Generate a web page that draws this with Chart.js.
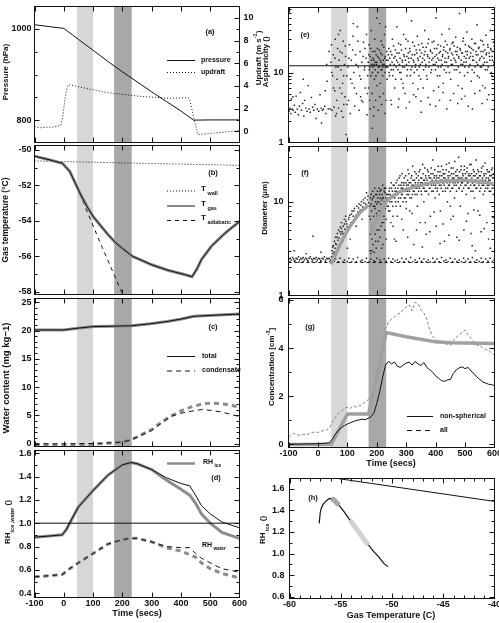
<!DOCTYPE html>
<html><head><meta charset="utf-8">
<script src="https://cdn.jsdelivr.net/npm/chart.js@4.4.1/dist/chart.umd.min.js"></script>
<style>
html,body{margin:0;background:#fff}
#wrap{position:relative;width:499px;height:623px}
#wrap canvas{position:absolute;left:0;top:0}
</style>
</head><body><div id="wrap"></div>
<script>
// ---- data ----
const lightBand = [45, 100];
const darkBand = [172, 232];
const timeTicks = [-100, 0, 100, 200, 300, 400, 500, 600];

// (a) pressure / updraft
const pressTicks = [800, 1000];
const updTicks = [0, 2, 4, 6, 8, 10];
const pressT = [-100, -50, 0, 50, 100, 150, 200, 250, 300, 350, 400, 443, 500, 600];
const pressV = [1009, 1005, 1001, 977, 953, 929, 906, 884, 862, 841, 820, 800, 800.5, 800.5];
const updT = [-100, -80, -60, -40, -20, -10, -4, 4, 10, 16, 45, 100, 150, 200, 250, 300, 365, 425, 432, 445, 458, 480, 520, 560, 600];
const updV = [0.4, 0.3, 0.35, 0.35, 0.45, 0.5, 1.2, 2.8, 3.7, 4.1, 3.95, 3.65, 3.4, 3.25, 3.1, 3.0, 2.9, 2.95, 2.6, 1.0, -0.3, -0.25, -0.15, -0.05, 0.05];

// (b) temperatures
const tempTicks = [-58, -56, -54, -52, -50];
const twallT = [-100, 600];
const twallV = [-50.62, -50.87];
const tgasT = [-100, -50, -5, 20, 40, 60, 80, 100, 126, 150, 175, 200, 235, 270, 298, 355, 412, 438, 455, 470, 504, 550, 600];
const tgasV = [-50.35, -50.55, -50.75, -51.2, -51.9, -52.6, -53.2, -53.75, -54.27, -54.75, -55.2, -55.55, -56.0, -56.25, -56.46, -56.78, -57.02, -57.15, -56.7, -56.18, -55.43, -54.7, -54.03];
const tadT = [-100, -50, -5, 20, 40, 126, 200, 215];
const tadV = [-50.35, -50.55, -50.75, -51.2, -51.9, -55.3, -58.1, -58.7];

// (c) water content
const waterTicks = [0, 5, 10, 15, 20, 25];
const totT = [-100, 0, 46, 102, 159, 233, 296, 353, 398, 444, 512, 600];
const totV = [20.1, 20.1, 20.4, 20.7, 20.75, 20.85, 21.2, 21.6, 22.0, 22.5, 22.7, 22.9];
const condT = [-100, 0, 100, 150, 200, 230, 260, 300, 330, 365, 400, 435, 470, 503, 540, 570, 600];
const condObs = [0, 0, 0.05, 0.15, 0.3, 0.7, 1.4, 2.35, 3.5, 4.8, 5.4, 5.75, 6.05, 5.9, 5.6, 5.2, 4.8];
const condMod = [-0.2, -0.2, -0.1, 0.1, 0.3, 0.7, 1.5, 2.5, 3.7, 4.9, 5.8, 6.5, 7.0, 7.2, 7.1, 6.8, 6.5];

// (d) relative humidity
const rhTicks = [0.4, 0.6, 0.8, 1.0, 1.2, 1.4, 1.6];
const rhT = [-100, -50, -5, 10, 20, 50, 100, 150, 200, 230, 250, 300, 350, 400, 430, 450, 470, 500, 540, 600];
const rhIceObs = [0.88, 0.89, 0.9, 0.95, 1.0, 1.14, 1.28, 1.41, 1.50, 1.52, 1.51, 1.46, 1.39, 1.34, 1.32, 1.24, 1.15, 1.08, 1.01, 0.96];
const rhIceMod = [0.88, 0.89, 0.9, 0.95, 1.0, 1.14, 1.28, 1.41, 1.50, 1.52, 1.51, 1.46, 1.37, 1.29, 1.24, 1.17, 1.08, 1.0, 0.92, 0.87];
const rhWatObs = [0.54, 0.55, 0.56, 0.59, 0.61, 0.66, 0.74, 0.82, 0.86, 0.87, 0.87, 0.84, 0.80, 0.79, 0.79, 0.74, 0.70, 0.66, 0.61, 0.58];
const rhWatMod = [0.54, 0.55, 0.56, 0.59, 0.61, 0.66, 0.74, 0.82, 0.86, 0.87, 0.87, 0.84, 0.79, 0.76, 0.73, 0.71, 0.66, 0.61, 0.57, 0.53];
const rhSat = 1.0;

// (e) asphericity, [time, value]
const logTicks = [1, 10];
const logMinorE = [2, 3, 4, 5, 6, 7, 8, 9, 20, 30, 40, 50, 60, 70, 80];
const logMinorF = [2, 3, 4, 5, 6, 7, 8, 9, 20, 30];
const asphLine = 12.5;
const asphericity = [
  [-98,2.8],[-95,3.1],[-92,2.6],[-90,4.2],[-87,3.0],[-85,4.5],[-84,2.9],[-80,3.4],[-77,2.7],[-74,4.6],[-70,3.0],[-66,2.5],[-63,3.3],[-60,5.2],[-56,2.9],[-52,3.6],[-50,8.0],[-48,2.4],[-45,4.0],[-41,3.1],[-37,2.8],[-33,6.5],[-30,3.0],[-26,2.7],[-22,4.4],[-18,3.2],[-14,2.9],[-10,3.5],[-6,2.2],[-2,3.0],[3,2.8],[7,4.8],[11,3.1],[12,1.9],[15,2.9],[19,3.0],[23,3.3],[25,5.5],[27,2.6],[30,13],[31,7.5],[35,3.0],[38,20],
  [42,3.0],[44,14],[46,25],[47,10],[48,2.9],[50,9],[52,18],[53,6],[55,3.2],[57,5.5],[58,16],[59,30],[60,2.4],[61,12],[63,2.6],[64,4],[65,8],[67,22],[69,12],[70,3.1],[70,35],[72,15],[74,6],[75,20],[76,40],[78,11],[80,2.8],[81,5],[82,19],[84,7],[85,2.3],[86,28],[87,9],[88,3.5],[90,13],[92,4.5],[93,24],[94,17],[96,1.3],[98,9],[99,3.5],
  [102,12],[104,4],[105,16],[107,25],[110,2.6],[111,8],[113,15],[116,7],[118,21],[119,33],[120,50],[122,10],[124,6],[125,3.3],[128,18],[130,13],[131,5],[134,45],[136,28],[137,12],[140,2.9],[142,9],[143,20],[145,4.5],[146,8],[148,4],[149,14],[152,3.8],[154,17],[155,27],[158,11],[159,12],[160,22],[161,6],[164,16],[165,35],[167,2.5],[168,5],[169,9],
  [171,14],[172,6],[173,18],[174,25],[175,11],[176,12],[176,4],[177,3],[178,17],[179,22],[180,9],[181,40],[182,15],[183,13],[184,5],[185,1.6],[185,10],[186,20],[187,12],[188,16],[189,2.4],[190,15],[190,3.2],[191,13],[192,8],[193,30],[194,20],[195,11],[195,14],[196,4],[197,9],[198,18],[199,13],[200,60],[200,14],[201,6.5],[202,22],[203,17],[204,10],[205,2.9],[206,12],[207,16],[208,12],[209,21],[210,50],[210,4.5],[211,7],[212,15],[213,19],[214,14],[215,28],[215,11],[216,3.5],[217,11],[218,18],[219,25],[220,9],[220,12],[221,13],[222,15],[223,5],[224,23],[225,13],[226,35],[227,16],[228,10],[228,2.6],[229,17],[230,45],[230,12],[231,4],[232,12],[233,15],[234,20],[235,8],
  [237,12],[238,15],[239,18],[241,22],[242,10],[243,9],[244,16],[246,13],[247,20],[248,4],[249,11],[250,3.5],[251,18],[252,14],[253,30],[254,9],[256,11],[257,24],[258,16],[259,13],[261,6],[262,17],[263,21],[264,8],[266,12],[267,15],[268,45],[269,19],[271,14],[272,11],[273,3.2],[274,26],[275,4.2],[276,19],[277,13],[278,10],[279,16],[281,25],[282,10],[283,8],[284,21],[286,15],[287,14],[288,12],[289,7],[290,6.0],[291,35],[292,18],[293,17],[294,12],[296,5],[297,15],[298,22],[299,30],[300,3.1],[301,13],[302,17],[303,9],[304,11],[306,28],[307,19],[308,16],[309,14],[311,3.8],[312,22],[313,20],[314,9],[316,11],[317,16],[318,55],[319,12],[321,18],[322,27],[323,7],[324,15],[325,4.8],[326,14],[327,10],[328,24],[329,18],[331,12],[332,13],[333,4.5],[334,21],[336,19],[337,11],[338,33],[339,16],[340,5.8],[341,15],[342,25],[343,9],[344,12],[346,21],[347,17],[348,13],[349,8],[350,3.9],[351,2.7],[352,19],[353,26],[354,14],[356,16],[357,23],[358,6],[359,11],[361,18],[362,15],[363,40],[364,20],[366,12],[367,13],[368,23],[369,9],[371,8],[372,18],[373,17],[374,26],[375,4.4],[376,30],[377,12],[378,14],[379,16],[381,3.5],[382,21],[383,20],[384,10],[386,11],[387,15],[388,27],[389,19],[391,16],[392,13],[393,5.5],[394,28],[396,22],[397,17],[398,13],[399,11],[400,3.3],[401,60],[402,14],[403,18],[404,22],[406,9],[407,16],[408,25],[409,12],[410,6.2],[411,15],[412,19],[413,4],[414,9],[416,20],[417,24],[418,12],[419,15],[421,35],[422,13],[423,17],[424,18],[425,5.2],[426,7],[427,21],[428,23],[429,11],[431,14],[432,16],[433,28],[434,20],[436,10],[437,14],[438,3],[439,25],[441,19],[442,12],[443,16],[444,17],[446,42],[447,10],[448,21],[449,22],[450,4.0],[451,8],[452,15],[453,13],[454,19],[456,26],[457,13],[458,18],[459,27],[461,5],[462,16],[463,24],[464,11],[466,15],[467,20],[468,32],[469,14],[471,11],[472,18],[473,20],[474,23],[475,3.6],[476,6.5],[477,12],[478,17],[479,16],[481,70],[482,10],[483,22],[484,21],[486,13],[487,15],[488,4.2],[489,19],[490,5.9],[491,19],[492,13],[493,28],[494,31],[496,14],[497,17],[498,9],[499,12],[500,4.6],[501,25],[502,20],[503,16],[504,14],[506,38],[507,18],[508,20],[509,10],[511,3.3],[512,24],[513,12],[514,16],[516,23],[517,13],[518,17],[519,19],[521,7.5],[522,22],[523,30],[524,11],[525,3.0],[526,15],[527,17],[528,21],[529,15],[531,10],[532,26],[533,5],[534,12],[536,26],[537,20],[538,18],[539,14],[541,48],[542,9],[543,13],[544,18],[546,22],[547,23],[548,8.5],[549,15],[550,5.5],[551,16],[552,12],[553,29],[554,20],[556,12],[557,17],[558,3.6],[559,28],[560,6.5],[561,20],[562,13],[563,25],[564,16],[566,14],[567,21],[568,6],[569,11],[571,34],[572,18],[573,19],[574,14],[575,4.1],[576,11],[577,25],[578,23],[579,12],[581,4.8],[582,19],[583,17],[584,15],[586,40],[587,22],[588,21],[589,10],[591,9],[592,17],[593,15],[594,20],[596,27],[597,14],[598,13],[599,24],[600,3.4]
];

// (f) diameter, [time, value]
const diamFloor = 2.25;
const diameter = [
  [-98,2.45],[-95,2.3],[-94,2.5],[-90,2.4],[-86,2.55],[-82,2.45],[-80,3.0],[-80,2.32],[-78,2.35],[-74,2.5],[-70,2.45],[-66,2.6],[-65,2.28],[-62,2.4],[-58,2.5],[-54,2.45],[-50,2.55],[-50,2.3],[-46,2.4],[-42,2.5],[-40,2.8],[-38,2.45],[-35,2.33],[-34,2.35],[-30,2.5],[-26,2.6],[-22,2.45],[-20,2.29],[-18,2.4],[-17,4.3],[-14,2.5],[-10,2.45],[-6,2.55],[-5,2.3],[-2,2.4],[2,2.5],[6,2.45],[10,2.35],[10,2.9],[10,2.31],[14,2.5],[18,2.45],[22,2.6],[25,2.29],[26,2.4],[30,2.5],[34,2.45],[38,2.5],[40,2.3],[42,2.4],[50,2.8],[55,2.32],[60,2.45],[70,2.3],[75,2.5],[85,2.28],[90,2.4],[100,2.31],[105,2.5],[115,2.3],[120,2.45],[130,2.29],[135,2.55],[145,2.32],[150,2.4],[160,2.3],[165,2.5],[175,2.31],[180,2.45],[190,2.35],[195,2.3],[200,2.5],[210,2.4],[215,2.28],[225,2.45],[232,2.32],[240,2.5],[248,2.3],[255,2.45],[262,2.33],[270,2.4],[278,2.29],[285,2.5],[292,2.3],[300,2.45],[308,2.31],[315,2.55],[322,2.3],[330,2.4],[338,2.29],[345,2.5],[352,2.32],[360,2.45],[368,2.3],[375,2.4],[382,2.28],[390,2.5],[398,2.31],[405,2.45],[412,2.3],[420,2.55],[428,2.33],[435,2.4],[442,2.3],[450,2.5],[458,2.29],[465,2.45],[472,2.31],[480,2.4],[488,2.3],[495,2.5],[502,2.32],[510,2.45],[518,2.3],[525,2.55],[532,2.29],[540,2.4],[548,2.31],[555,2.5],[562,2.3],[570,2.45],[578,2.32],[585,2.5],[592,2.3],[598,2.4],
  [46,2.6],[48,3.0],[50,3.3],[52,3.4],[54,2.7],[55,2.9],[56,3.8],[58,3.2],[60,4.2],[60,3.6],[62,3.5],[64,3.0],[65,4.2],[66,4.6],[68,3.9],[70,5.0],[70,3.4],[72,4.1],[74,3.6],[75,4.8],[76,5.4],[78,4.5],[80,6.0],[80,5.2],[82,4.8],[84,3.8],[85,4.6],[86,5.5],[88,4.4],[90,6.5],[90,5.8],[92,5.1],[94,7.0],[95,6.2],[96,4.8],[98,5.8],[100,3.2],[100,5.4],[104,6.5],[106,6.8],[108,7.2],[110,4.0],[112,6.0],[114,7.4],[116,8.0],[120,7.0],[122,8.0],[124,8.5],[128,6.8],[130,5.5],[130,7.2],[132,9.0],[136,7.8],[138,8.6],[140,9.5],[144,8.2],[146,9.2],[148,10.0],[150,6.5],[152,8.8],[154,10.5],[156,9.7],[160,11.0],[162,9.5],[164,8.5],[165,12.5],[168,10.5],[170,11.5],[172,9.8],
  [175,7],[176,9.0],[177,3.0],[178,11],[178,4.5],[179,6.5],[180,2.8],[181,12],[181,9.5],[182,8],[183,4],[184,10.5],[184,3],[185,5.5],[186,13],[187,3.5],[187,11],[188,9],[189,7],[190,11.5],[190,6],[191,2.9],[192,6],[193,14],[193,9],[194,8.5],[195,4.5],[196,10],[196,3.8],[197,12],[198,3.2],[199,7.5],[199,12],[200,9.5],[201,5],[202,13],[202,7],[203,11],[204,6.5],[205,3.8],[205,10],[206,10],[207,8],[208,14],[208,5],[209,12],[210,4.2],[211,7],[211,13],[212,11],[213,9.5],[214,5.5],[214,8],[215,13.5],[216,10.5],[217,6],[217,3.2],[218,12],[219,8],[220,15],[220,11],[221,3.5],[222,11],[223,9],[223,6],[224,7],[225,13],[226,10],[226,14],[227,5],[228,12.5],[229,8.5],[229,9],[230,14],[231,11],[232,6.5],[232,4],[233,10],[234,12],[235,9],[235,12],
  [238,11],[239,9],[240,8],[241,12],[242,13],[243,14],[244,10],[245,8],[246,12],[247,11],[248,6],[249,16],[250,14],[251,10],[252,11],[253,13],[254,9],[255,7],[255,5.5],[256,15],[257,12],[258,12],[259,15],[260,4],[261,11],[262,13],[263,14],[264,10],[265,9],[265,3.8],[266,16],[267,13],[268,12],[269,17],[270,7],[271,12],[272,14],[273,10],[274,11],[275,15],[276,18],[277,13],[278,13],[279,19],[280,9],[281,11],[282,15],[283,14],[284,12],[285,16],[285,6.5],[286,20],[287,12],[288,14],[289,10],[290,5],[291,15],[292,16],[293,18],[294,11],[295,13],[296,13],[297,11],[298,19],[299,16],[300,10],[300,8.5],[301,14],[302,15],[303,12],[304,13],[305,17],[305,4.2],[306,22],[307,15],[308,12],[309,20],[310,16],[311,13],[312,8],[313,11],[314,14],[315,16],[316,18],[317,14],[318,11],[319,19],[320,15],[320,7.5],[321,12],[322,24],[323,17],[324,13],[325,15],[326,3.5],[327,13],[328,17],[329,21],[330,12],[331,16],[332,15],[333,14],[334,20],[335,18],[335,5.0],[336,14],[337,12],[338,9],[339,15],[340,16],[341,19],[342,13],[343,17],[344,21],[345,14],[346,15],[347,22],[348,6],[349,16],[350,18],[351,13],[352,12],[353,18],[354,16],[355,15],[355,3.3],[356,25],[357,20],[358,14],[359,17],[360,10],[361,14],[362,17],[363,23],[364,13],[365,16],[365,6.0],[366,19],[367,18],[368,4.5],[369,13],[370,15],[371,17],[372,22],[373,15],[374,16],[375,21],[376,12],[377,19],[378,18],[379,14],[380,14],[380,4.8],[381,16],[382,7],[383,18],[384,20],[385,23],[386,15],[387,13],[388,17],[389,16],[390,28],[391,20],[392,13],[393,15],[394,16],[395,18],[395,7.8],[396,19],[397,22],[398,11],[399,14],[400,15],[401,17],[402,5.5],[403,19],[404,18],[405,13],[406,14],[407,16],[408,21],[409,24],[410,16],[411,18],[412,12],[413,15],[414,19],[415,21],[415,3.6],[416,8],[417,17],[418,15],[419,14],[420,24],[421,19],[422,17],[423,16],[424,13],[425,22],[425,5.8],[426,20],[427,18],[428,16],[429,15],[430,3.8],[431,20],[432,18],[433,13],[434,14],[435,17],[436,22],[437,25],[438,17],[439,16],[440,10],[441,14],[442,19],[443,18],[444,15],[445,21],[445,4.4],[446,26],[447,15],[448,16],[449,19],[450,13],[450,9.0],[451,17],[452,6.5],[453,23],[454,20],[455,14],[456,17],[457,18],[458,14],[459,16],[460,23],[460,7.0],[461,20],[462,18],[463,15],[464,11],[465,27],[466,16],[467,17],[468,21],[469,19],[470,15],[471,13],[472,4.2],[473,22],[474,19],[475,16],[476,17],[477,18],[478,30],[479,14],[480,14],[480,3.9],[481,21],[482,18],[483,17],[484,9],[485,15],[486,22],[487,24],[488,16],[489,18],[490,13],[491,16],[492,20],[493,19],[494,17],[495,14],[496,5],[497,22],[498,24],[499,17],[500,15],[501,20],[502,18],[503,15],[504,12],[505,18],[505,6.2],[506,21],[507,23],[508,16],[509,16],[510,7.5],[511,14],[512,19],[513,20],[514,14],[515,17],[516,25],[517,19],[518,17],[519,15],[520,13],[520,4.6],[521,25],[522,20],[523,18],[524,3.4],[525,16],[526,16],[527,13],[528,22],[529,19],[530,15],[530,8.2],[531,21],[532,11],[533,15],[534,19],[535,17],[535,3.0],[536,17],[537,14],[538,28],[539,20],[540,14],[541,16],[542,18],[543,22],[544,8],[545,18],[546,21],[547,15],[548,16],[549,19],[550,13],[550,7.2],[551,17],[552,19],[553,14],[554,4.8],[555,21],[556,23],[557,16],[558,15],[559,18],[560,17],[561,24],[562,12],[563,15],[564,20],[565,19],[565,5.2],[566,16],[567,13],[568,26],[569,17],[570,14],[571,20],[572,18],[573,16],[574,6],[575,22],[576,15],[577,14],[578,21],[579,18],[580,17],[580,4.0],[581,15],[582,13],[583,21],[584,19],[585,17],[586,3.2],[587,13],[588,16],[589,19],[590,22],[591,16],[592,14],[593,23],[594,18],[595,15],[595,6.8],[596,12],[597,18],[598,20],[599,14]
];
const diamModT1 = [44, 63, 86, 109, 143, 171];
const diamModV1 = [2.15, 2.9, 4.1, 5.5, 7.7, 9.2];
const diamModT2 = [180, 194, 217, 234, 279, 336, 392, 494, 596];
const diamModV2 = [4.5, 6.0, 7.8, 10.4, 12.9, 14.7, 16.2, 17.1, 15.7];

// (g) concentration
const concTicks = [0, 2, 4, 6];
const concT = [-100,-90,-80,-70,-60,-50,-40,-30,-20,-10,0,10,20,30,40,50,60,70,80,90,100,110,120,130,140,150,160,170,180,190,200,210,220,230,240,250,260,270,280,290,300,310,320,330,340,350,360,370,380,390,400,410,420,430,440,450,460,470,480,490,500,510,520,530,540,550,560,570,580,590,600];
const concNonSph = [0.02,0.01,0.02,0.01,0.02,0.02,0.03,0.02,0.03,0.03,0.04,0.04,0.05,0.06,0.08,
  0.25,0.45,0.6,0.7,0.78,0.85,0.9,0.95,1.0,1.02,1.05,1.03,1.08,
  1.15,1.3,1.7,2.2,2.8,3.3,3.45,3.35,3.42,3.25,3.2,3.3,
  3.38,3.42,3.3,3.45,3.35,3.28,3.4,3.2,3.1,3.0,2.85,2.75,
  2.65,2.62,2.68,2.7,2.95,3.1,3.18,3.22,3.15,3.2,3.05,2.95,
  2.8,2.7,2.6,2.55,2.5,2.48,2.45];
const concAll = [0.31,0.42,0.45,0.4,0.38,0.42,0.4,0.45,0.5,0.52,0.5,0.55,0.58,0.6,0.7,
  0.95,1.15,1.3,1.4,1.5,1.55,1.5,1.6,1.55,1.6,1.65,1.75,1.85,
  2.0,2.15,2.6,3.1,4.0,4.8,5.1,5.2,5.3,5.4,5.45,5.6,
  5.7,5.8,5.55,5.9,5.85,5.6,5.45,5.2,4.75,4.5,4.35,4.3,
  4.25,4.2,4.15,4.12,4.3,4.45,4.55,4.65,4.75,4.55,4.4,4.25,
  4.12,4.1,4.0,3.95,3.9,3.8,3.7];
const concModT = [-100, 45, 100, 172, 232, 300, 400, 450, 600];
const concModV = [0, 0, 1.27, 1.27, 4.65, 4.47, 4.26, 4.22, 4.19];

// (h) RHice vs gas temperature
const gtTicks = [-60, -55, -50, -45, -40];
const rhhTicks = [0.6, 0.8, 1.0, 1.2, 1.4, 1.6];
const homT = [-60, -40];
const homV = [1.76, 1.483];
const trajT = [-50.4, -50.8, -51.3, -51.8, -52.3, -52.8, -53.4, -54.1, -54.7, -55.2, -55.7, -56.1, -56.4, -56.7, -56.9, -57.0, -57.1];
const trajV = [0.88, 0.91, 0.97, 1.02, 1.08, 1.14, 1.22, 1.31, 1.39, 1.45, 1.50, 1.51, 1.49, 1.46, 1.42, 1.38, 1.28];
const lightT = [-54.1, -53.4, -52.8, -52.3];
const lightV = [1.31, 1.22, 1.14, 1.08];
const darkT = [-55.9, -55.7, -55.2];
const darkV = [1.505, 1.50, 1.45];

// ---- drawing ----
const W = 499, H = 623;
const FONT = '"Liberation Sans", Arial, sans-serif';
const INK = '#111';
const MODEL = '#8c8c8c';

const xy = (ts, vs) => ts.map((t, i) => ({ x: t, y: vs[i] }));
const pts = pairs => pairs.map(p => ({ x: p[0], y: p[1] }));

function ln(data, color, width, dash, yAxisID) {
  return { data, borderColor: color, borderWidth: width, borderDash: dash || [], pointRadius: 0, yAxisID: yAxisID || 'y', fill: false };
}
function dots(data) {
  return { data, showLine: false, pointStyle: 'rect', pointRadius: 1.05, pointBackgroundColor: '#222', pointBorderWidth: 0, yAxisID: 'y' };
}

function axis(s) {
  const vertical = s.axis === 'y';
  return {
    type: s.type || 'linear', axis: s.axis, position: s.position, min: s.min, max: s.max,
    grid: { display: false, drawTicks: false }, border: { display: false },
    ticks: {
      display: !!s.labels, padding: s.pad === undefined ? 3 : s.pad, autoSkip: false, maxRotation: 0,
      font: { family: FONT, size: 9, weight: 'bold' }, color: INK,
      callback: v => s.fmt ? s.fmt(v) : String(v)
    },
    afterBuildTicks: sc => { if (s.labels) sc.ticks = s.labels.map(v => ({ value: v })); },
    afterFit: sc => {
      if (vertical) sc.width = s.size; else sc.height = s.size;
      sc.paddingLeft = sc.paddingRight = sc.paddingTop = sc.paddingBottom = 0;
    }
  };
}

// text with sub/superscripts, optionally rotated
function rich(ctx, t) {
  const size = t.size || 8;
  const segs = typeof t.t === 'string' ? [[t.t, '']] : t.t;
  const fs = k => k ? size * 0.68 : size;
  ctx.save();
  ctx.translate(t.x, t.y);
  if (t.rot) ctx.rotate(-Math.PI / 2);
  let w = 0;
  segs.forEach(([s, k]) => { ctx.font = `bold ${fs(k)}px ${FONT}`; w += ctx.measureText(s).width; });
  let cx = t.align === 'left' ? 0 : t.align === 'right' ? -w : -w / 2;
  ctx.textBaseline = 'middle';
  ctx.fillStyle = INK;
  segs.forEach(([s, k]) => {
    ctx.font = `bold ${fs(k)}px ${FONT}`;
    const dy = k === 'sub' ? size * 0.5 : k === 'sup' ? -size * 0.4 : 0;
    ctx.fillText(s, cx, dy);
    cx += ctx.measureText(s).width;
  });
  ctx.restore();
}

function decoPlugin(d, specs) {
  return {
    id: 'deco',
    beforeDatasetsDraw(chart) {
      if (!d.bands) return;
      const { ctx, chartArea: a } = chart, x = chart.scales.x;
      ctx.save();
      [[lightBand, '#d7d7d7'], [darkBand, '#a8a8a8']].forEach(([b, c]) => {
        const x0 = x.getPixelForValue(b[0]), x1 = x.getPixelForValue(b[1]);
        ctx.fillStyle = c;
        ctx.fillRect(x0, a.top, x1 - x0, a.bottom - a.top);
      });
      ctx.restore();
    },
    afterDraw(chart) {
      const { ctx, chartArea: a } = chart;
      ctx.save();
      ctx.strokeStyle = INK;
      ctx.lineWidth = 1;
      ctx.strokeRect(a.left, a.top, a.right - a.left, a.bottom - a.top);
      for (const id in specs) {
        const s = specs[id], sc = chart.scales[id];
        [[s.major || s.labels || [], 5], [s.minor || [], 3]].forEach(([vals, len]) => {
          vals.forEach(v => {
            const p = Math.round(sc.getPixelForValue(v)) + 0.5;
            const horiz = s.axis === 'x';
            if (horiz && (p < a.left + 1 || p > a.right - 1)) return;
            if (!horiz && (p < a.top + 1 || p > a.bottom - 1)) return;
            s.sides.forEach(side => {
              ctx.beginPath();
              if (side === 'bottom') { ctx.moveTo(p, a.bottom); ctx.lineTo(p, a.bottom - len); }
              if (side === 'top') { ctx.moveTo(p, a.top); ctx.lineTo(p, a.top + len); }
              if (side === 'left') { ctx.moveTo(a.left, p); ctx.lineTo(a.left + len, p); }
              if (side === 'right') { ctx.moveTo(a.right, p); ctx.lineTo(a.right - len, p); }
              ctx.stroke();
            });
          });
        });
      }
      (d.keys || []).forEach(k => {
        ctx.save();
        ctx.strokeStyle = k.color || INK;
        ctx.lineWidth = k.width || 1;
        ctx.setLineDash(k.dash || []);
        ctx.beginPath(); ctx.moveTo(k.x0, k.y); ctx.lineTo(k.x1, k.y); ctx.stroke();
        ctx.restore();
      });
      (d.texts || []).forEach(t => rich(ctx, t));
      ctx.restore();
    }
  };
}

function panel(box, specs, datasets, deco) {
  const cv = document.createElement('canvas');
  cv.width = W; cv.height = H;
  document.getElementById('wrap').appendChild(cv);
  const pad = { left: box[0], top: box[1], right: W - box[2], bottom: H - box[3] };
  const scales = {};
  for (const id in specs) {
    const s = specs[id];
    // room for tick labels: the axis box runs from the canvas edge (or 20px) to the plot frame
    s.size = 0;
    if (s.labels) {
      if (s.position === 'left') s.size = box[0];
      if (s.position === 'right') s.size = 22;
      if (s.position === 'bottom') s.size = 18;
    }
    if (s.position === 'left') pad.left -= s.size;
    if (s.position === 'right') pad.right -= s.size;
    if (s.position === 'bottom') pad.bottom -= s.size;
    scales[id] = axis(s);
  }
  return new Chart(cv, {
    type: 'line',
    data: { datasets },
    options: {
      responsive: false, animation: false, devicePixelRatio: 1,
      layout: { padding: pad },
      scales,
      plugins: { legend: { display: false }, tooltip: { enabled: false } },
      elements: { line: { tension: 0 } }
    },
    plugins: [decoPlugin(deco, specs)]
  });
}

const tAxis = (labels) => ({ axis: 'x', position: 'bottom', min: -100, max: 600, major: timeTicks, labels: labels ? timeTicks : undefined, pad: 1, sides: ['bottom', 'top'] });
const f1 = v => v.toFixed(1);

// (a)
panel([34.5, 6.5, 239.5, 142.5], {
  x: tAxis(false),
  y: { axis: 'y', position: 'left', min: 751, max: 1049, labels: pressTicks, minor: [850, 900, 950], sides: ['left'] },
  y2: { axis: 'y', position: 'right', min: -1, max: 11, labels: updTicks, minor: [1, 3, 5, 7, 9], sides: ['right'], pad: 4 }
}, [
  ln(xy(pressT, pressV), INK, 1),
  ln(xy(updT, updV), INK, 1, [1, 2], 'y2')
], {
  bands: true,
  keys: [{ x0: 167, x1: 195, y: 60.5 }, { x0: 167, x1: 195, y: 72.5, dash: [1, 2] }],
  texts: [
    { x: 210, y: 32, t: '(a)', size: 7.5 },
    { x: 201, y: 60, t: 'pressure', size: 7, align: 'left' },
    { x: 201, y: 72, t: 'updraft', size: 7, align: 'left' },
    { x: 6, y: 72, t: 'Pressure (hPa)', rot: true },
    { x: 259, y: 58, t: [['Updraft (m s', ''], ['-1', 'sup'], [')', '']], rot: true }
  ]
});

// (b)
panel([34.5, 145.5, 239.5, 294.5], {
  x: tAxis(false),
  y: { axis: 'y', position: 'left', min: -58.15, max: -49.75, labels: tempTicks, minor: [-57, -55, -53, -51], sides: ['left', 'right'] }
}, [
  ln(xy(tgasT, tgasV), INK, 1),
  ln(xy(tgasT, tgasV), MODEL, 3),
  ln(xy(tadT, tadV), INK, 1, [4, 4]),
  ln(xy(twallT, twallV), INK, 1, [1, 2])
], {
  bands: true,
  keys: [
    { x0: 167, x1: 195, y: 191, dash: [1, 2] },
    { x0: 167, x1: 195, y: 206 },
    { x0: 167, x1: 195, y: 220.5, dash: [4, 4] }
  ],
  texts: [
    { x: 213, y: 173, t: '(b)', size: 7.5 },
    { x: 201, y: 189, t: [['T', ''], [' wall', 'sub']], size: 8, align: 'left' },
    { x: 201, y: 204, t: [['T', ''], [' gas', 'sub']], size: 8, align: 'left' },
    { x: 201, y: 218, t: [['T', ''], [' adiabatic', 'sub']], size: 8, align: 'left' },
    { x: 6, y: 220, t: 'Gas temperature (°C)', size: 8.5, rot: true }
  ]
});

// (c)
panel([34.5, 298.5, 239.5, 446.5], {
  x: tAxis(false),
  y: { axis: 'y', position: 'left', min: -0.48, max: 25.65, labels: waterTicks, minor: [1, 2, 3, 4, 6, 7, 8, 9, 11, 12, 13, 14, 16, 17, 18, 19, 21, 22, 23, 24], sides: ['left', 'right'] }
}, [
  ln(xy(totT, totV), INK, 1),
  ln(xy(totT, totV), MODEL, 3),
  ln(xy(condT, condObs), INK, 1, [5, 4]),
  ln(xy(condT, condMod), MODEL, 3, [5, 4])
], {
  bands: true,
  keys: [{ x0: 167, x1: 195, y: 356.5 }, { x0: 167, x1: 195, y: 371, dash: [5, 4] }],
  texts: [
    { x: 213, y: 327, t: '(c)', size: 7.5 },
    { x: 202, y: 356, t: 'total', size: 7, align: 'left' },
    { x: 202, y: 370.5, t: 'condensate', size: 7, align: 'left' },
    { x: 6, y: 378, t: 'Water content (mg kg\u22121)', size: 9.5, rot: true }
  ]
});

// (d)
panel([34.5, 450.5, 239.5, 597.5], {
  x: tAxis(true),
  y: { axis: 'y', position: 'left', min: 0.363, max: 1.623, labels: rhTicks, fmt: f1, minor: [0.5, 0.7, 0.9, 1.1, 1.3, 1.5], sides: ['left', 'right'] }
}, [
  ln(xy(rhT, rhIceObs), INK, 1),
  ln(xy(rhT, rhWatObs), INK, 1, [5, 4]),
  ln([{ x: -100, y: rhSat }, { x: 600, y: rhSat }], INK, 1),
  ln(xy(rhT, rhIceMod), MODEL, 3),
  ln(xy(rhT, rhWatMod), MODEL, 3, [5, 4])
], {
  bands: true,
  keys: [{ x0: 167, x1: 195, y: 463.5, color: MODEL, width: 2.5 }],
  texts: [
    { x: 216, y: 478, t: '(d)', size: 7.5 },
    { x: 203, y: 462, t: [['RH', ''], [' ice', 'sub']], size: 7, align: 'left' },
    { x: 202, y: 545, t: [['RH', ''], [' water', 'sub']], size: 7, align: 'left' },
    { x: 8, y: 522, t: [['RH', ''], ['ice ,water', 'sub'], [' ()', '']], rot: true },
    { x: 137, y: 614, t: 'Time (secs)', size: 9 }
  ]
});

// (e)
panel([288.5, 7.5, 494.5, 142.5], {
  x: tAxis(false),
  y: { axis: 'y', type: 'logarithmic', position: 'left', min: 1, max: 85, labels: logTicks, minor: logMinorE, sides: ['left', 'right'], pad: 5 }
}, [
  ln([{ x: -100, y: asphLine }, { x: 600, y: asphLine }], INK, 1),
  dots(pts(asphericity))
], {
  bands: true,
  texts: [
    { x: 305, y: 35, t: '(e)', size: 7.5 },
    { x: 266, y: 62, t: 'Asphericity ()', rot: true }
  ]
});

// (f)
panel([288.5, 146.5, 494.5, 295.5], {
  x: tAxis(false),
  y: { axis: 'y', type: 'logarithmic', position: 'left', min: 1, max: 39, labels: logTicks, minor: logMinorF, sides: ['left', 'right'], pad: 5 }
}, [
  ln(xy(diamModT1, diamModV1), '#a0a0a0', 3.5),
  ln(xy(diamModT2, diamModV2), '#a0a0a0', 3.5),
  ln([{ x: -100, y: diamFloor }, { x: 600, y: diamFloor }], INK, 1, [3, 3]),
  dots(pts(diameter))
], {
  bands: true,
  texts: [
    { x: 305, y: 173, t: '(f)', size: 7.5 },
    { x: 265, y: 208, t: 'Diameter (\u00b5m)', rot: true }
  ]
});

// (g)
panel([288.5, 298.5, 494.5, 447.5], {
  x: tAxis(true),
  y: { axis: 'y', position: 'left', min: -0.125, max: 6.06, labels: concTicks, minor: [1, 3, 5], sides: ['left', 'right'], pad: 5 }
}, [
  ln(xy(concT, concNonSph), INK, 1),
  ln(xy(concModT, concModV), '#a0a0a0', 3.5),
  ln(xy(concT, concAll), '#808080', 1, [3, 2])
], {
  bands: true,
  keys: [{ x0: 407, x1: 433, y: 416.5 }, { x0: 407, x1: 433, y: 430.5, dash: [5, 4] }],
  texts: [
    { x: 310, y: 327, t: '(g)', size: 7.5 },
    { x: 440, y: 416, t: 'non-spherical', size: 7, align: 'left' },
    { x: 440, y: 430, t: 'all', size: 7, align: 'left' },
    { x: 272, y: 367, t: [['Concentration [cm', ''], ['-3', 'sup'], [']', '']], rot: true },
    { x: 391, y: 464, t: 'Time (secs)', size: 9 }
  ]
});

// (h)
panel([289.5, 478.5, 494.5, 598.5], {
  x: { axis: 'x', position: 'bottom', min: -60, max: -40, labels: gtTicks, pad: 1, minor: [-59, -58, -57, -56, -54, -53, -52, -51, -49, -48, -47, -46, -44, -43, -42, -41], sides: ['bottom', 'top'] },
  y: { axis: 'y', position: 'left', min: 0.585, max: 1.695, labels: rhhTicks, fmt: f1, minor: [0.7, 0.9, 1.1, 1.3, 1.5], sides: ['left', 'right'], pad: 5 }
}, [
  ln(xy(darkT, darkV), '#a8a8a8', 5),
  ln(xy(lightT, lightV), '#d2d2d2', 5),
  ln(xy(trajT, trajV), INK, 1.2),
  ln(xy(homT, homV), INK, 1)
], {
  texts: [
    { x: 313, y: 498, t: '(h)', size: 7.5 },
    { x: 263, y: 530, t: [['RH', ''], [' ice', 'sub'], [' ()', '']], rot: true },
    { x: 391, y: 616, t: 'Gas Temperature (C)', size: 9 }
  ]
});
</script>
</body></html>
